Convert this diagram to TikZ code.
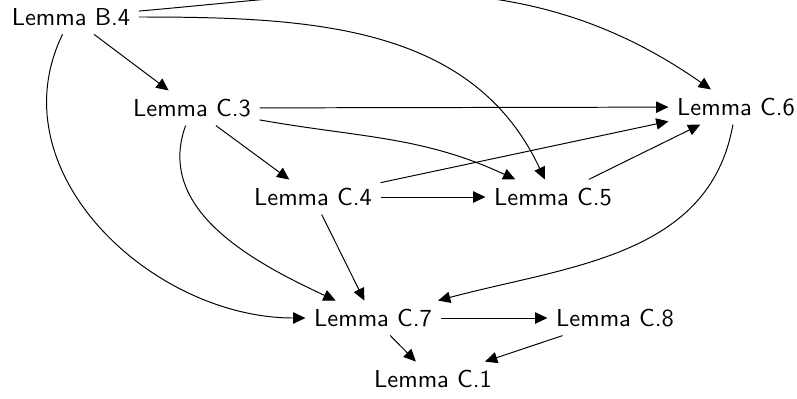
\documentclass[tikz,border=0pt]{standalone}
\usetikzlibrary{arrows.meta}
\begin{document}
\begin{tikzpicture}[x=0.408pt,y=-0.408pt,
  lem/.style={font=\sffamily},
  arr/.style={-{Triangle[length=5pt,width=4.6pt]}}]
\useasboundingbox (0,0) rectangle (797,398);
\node[lem] (b4) at (71,17) {Lemma B.4};
\node[lem] (c3) at (192,108) {Lemma C.3};
\node[lem] (c4) at (313,197) {Lemma C.4};
\node[lem] (c5) at (553,197) {Lemma C.5};
\node[lem] (c6) at (736,107) {Lemma C.6};
\node[lem] (c7) at (373,318) {Lemma C.7};
\node[lem] (c8) at (615,318) {Lemma C.8};
\node[lem] (c1) at (433,379) {Lemma C.1};
% straight
\draw[arr] (b4) -- (c3);
\draw[arr] (c3) -- (c6);
\draw[arr] (c3) -- (c4);
\draw[arr] (c4) -- (c5);
\draw[arr] (c4) -- (c6);
\draw[arr] (c4) -- (c7);
\draw[arr] (c5) -- (c6);
\draw[arr] (c7) -- (c8);
\draw[arr] (c7) -- (c1);
\draw[arr] (c8) -- (c1);
% curved
\draw[arr] (b4) to[out=5,in=145] (c6);
\draw[arr] (b4) to[out=0,in=115] (c5);
\draw[arr] (c3) to[out=-10,in=155] (c5);
\draw[arr] (c3) to[out=-110,in=155] (c7);
\draw[arr] (b4) to[out=-116,in=180,looseness=1.05] (c7);
\draw[arr] (c6) to[out=-100,in=15] (c7);
\end{tikzpicture}
\end{document}
